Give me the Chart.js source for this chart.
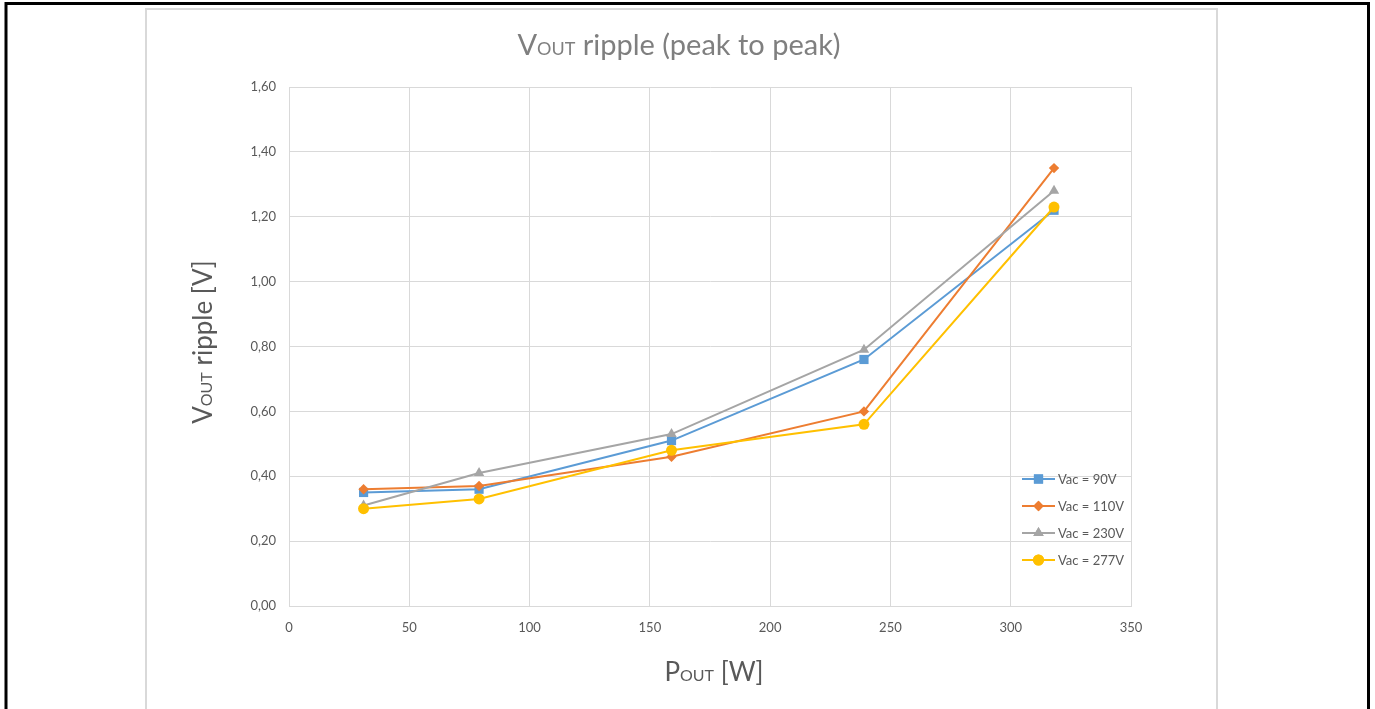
<!DOCTYPE html>
<html><head><meta charset="utf-8">
<script src="https://cdn.jsdelivr.net/npm/chart.js@4/dist/chart.umd.min.js"></script>
<style>html,body{margin:0;padding:0;background:#fff}#wrap{width:1375px;height:709px}</style>
</head><body><div id="wrap"><canvas id="c" width="1375" height="709"></canvas></div>
<script>
const pout = [31, 79, 159, 239, 318];
const seriesNames = ['Vac = 90V', 'Vac = 110V', 'Vac = 230V', 'Vac = 277V'];
const vac90 = [0.35, 0.36, 0.51, 0.76, 1.22];
const vac110 = [0.36, 0.37, 0.46, 0.60, 1.35];
const vac230 = [0.31, 0.41, 0.53, 0.79, 1.28];
const vac277 = [0.30, 0.33, 0.48, 0.56, 1.23];
const xTicks = [0, 50, 100, 150, 200, 250, 300, 350];
const yTicks = [0, 0.2, 0.4, 0.6, 0.8, 1.0, 1.2, 1.4, 1.6];

const FONT = 'Lato, "Open Sans", sans-serif';
const colors = ['#5B9BD5', '#ED7D31', '#A5A5A5', '#FFC000'];
const styles = ['rect', 'rectRot', 'triangle', 'circle'];
const radii = [6.5, 5.2, 6, 5.5];
const allVals = [vac90, vac110, vac230, vac277];

const datasets = allVals.map((v, i) => ({
  label: seriesNames[i],
  data: pout.map((x, j) => ({x: x, y: v[j]})),
  borderColor: colors[i], backgroundColor: colors[i],
  borderWidth: 2, pointStyle: styles[i], pointRadius: radii[i],
  pointBorderWidth: 0, tension: 0, order: 3 - i
}));

function subText(ctx, parts, x, y, align) {
  let w = 0;
  parts.forEach(p => { ctx.font = p[1] + 'px ' + FONT; w += ctx.measureText(p[0]).width; });
  let sx = align === 'center' ? x - w / 2 : x;
  parts.forEach(p => { ctx.font = p[1] + 'px ' + FONT; ctx.fillText(p[0], sx, y); sx += ctx.measureText(p[0]).width; });
}

const deco = {
  id: 'deco',
  beforeDraw(chart) {
    const ctx = chart.ctx;
    ctx.save();
    ctx.fillStyle = '#fff'; ctx.fillRect(0, 0, 1375, 709);
    ctx.strokeStyle = '#000'; ctx.lineWidth = 3;
    ctx.beginPath(); ctx.moveTo(6, 720); ctx.lineTo(6, 3.5); ctx.lineTo(1368.5, 3.5); ctx.lineTo(1368.5, 720); ctx.stroke();
    ctx.strokeStyle = '#d9d9d9'; ctx.lineWidth = 2;
    ctx.beginPath(); ctx.moveTo(146, 720); ctx.lineTo(146, 9); ctx.lineTo(1217, 9); ctx.lineTo(1217, 720); ctx.stroke();
    ctx.restore();
  },
  afterDraw(chart) {
    const ctx = chart.ctx;
    ctx.save();
    ctx.fillStyle = '#7f7f7f'; ctx.textBaseline = 'alphabetic';
    subText(ctx, [['V', 29], ['OUT', 18], [' ripple (peak to peak)', 29]], 679, 55, 'center');
    ctx.fillStyle = '#595959';
    subText(ctx, [['P', 26], ['OUT', 16], [' [W]', 26]], 714, 681, 'center');
    ctx.save(); ctx.translate(212, 342); ctx.rotate(-Math.PI / 2);
    subText(ctx, [['V', 26], ['OUT', 16], [' ripple [V]', 26]], 0, 0, 'center');
    ctx.restore();
    ctx.font = '13px ' + FONT; ctx.textBaseline = 'middle';
    seriesNames.forEach((n, i) => {
      const y = 479 + i * 27;
      ctx.strokeStyle = colors[i]; ctx.lineWidth = 2;
      ctx.beginPath(); ctx.moveTo(1022, y); ctx.lineTo(1055, y); ctx.stroke();
      ctx.fillStyle = colors[i];
      Chart.helpers.drawPoint(ctx, {pointStyle: styles[i], radius: radii[i], borderWidth: 0}, 1038.5, y);
      ctx.fill();
      ctx.fillStyle = '#595959'; ctx.fillText(n, 1058, y + 1);
    });
    ctx.restore();
  }
};

new Chart(document.getElementById('c'), {
  type: 'line',
  data: { datasets },
  options: {
    responsive: false, animation: false,
    layout: { padding: { left: 0, right: 244, top: 87, bottom: 0 } },
    plugins: { legend: { display: false }, tooltip: { enabled: false }, title: { display: false } },
    scales: {
      x: {
        type: 'linear', min: 0, max: 350,
        afterFit(s) { s.height = 103; },
        afterBuildTicks(s) { s.ticks = xTicks.map(v => ({value: v})); },
        grid: { color: '#d9d9d9', lineWidth: 1, drawTicks: false },
        border: { color: '#d9d9d9', width: 1 },
        ticks: { color: '#595959', font: { family: FONT, size: 13 }, padding: 14, maxRotation: 0 }
      },
      y: {
        type: 'linear', min: 0, max: 1.6,
        afterFit(s) { s.width = 289; },
        afterBuildTicks(s) { s.ticks = yTicks.map(v => ({value: v})); },
        grid: { color: '#d9d9d9', lineWidth: 1, drawTicks: false },
        border: { color: '#d9d9d9', width: 1 },
        ticks: { color: '#595959', font: { family: FONT, size: 13 }, padding: 13,
          callback: v => v.toFixed(2).replace('.', ',') }
      }
    }
  },
  plugins: [deco]
});
</script></body></html>
